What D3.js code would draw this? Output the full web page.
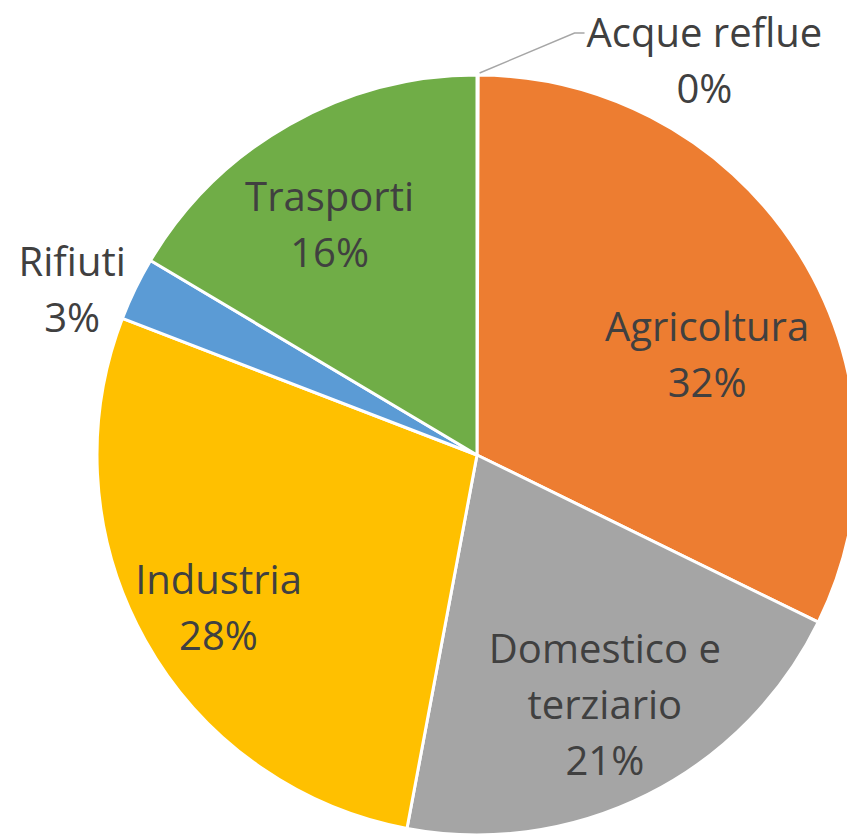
<!DOCTYPE html>
<html lang="it">
<head>
<meta charset="UTF-8">
<script src="https://d3js.org/d3.v7.min.js"></script>
<style>
  html, body { margin: 0; padding: 0; background: #fff; }
  svg { display: block; }
  .lbl { font-family: "Open Sans", sans-serif; font-size: 40px; fill: #404040; }
</style>
</head>
<body>
<svg width="847" height="834"></svg>
<script>
// data (percent shares, clockwise from 12 o'clock)
const categories = ["Acque reflue", "Agricoltura", "Domestico e terziario", "Industria", "Rifiuti", "Trasporti"];
const shares = [0.05, 32.2, 20.7, 27.9, 2.7, 16.45];
const colors = ["#4472C4", "#ED7D31", "#A5A5A5", "#FFC000", "#5B9BD5", "#70AD47"];
// how label text wraps (Excel-style)
const labelLines = [["Acque reflue"], ["Agricoltura"], ["Domestico e", "terziario"], ["Industria"], ["Rifiuti"], ["Trasporti"]];

// label placement: [angle nudge in degrees, distance from centre as fraction of radius]
const labelPlace = [[29.9, 1.197], [8.4, 0.66], [-0.4, 0.74], [-1.4, 0.79], [-3.8, 1.15], [-3.0, 0.72]];

const cx = 477, cy = 455, r = 380;
const lineH = 56;

const svg = d3.select("svg");
const g = svg.append("g").attr("transform", `translate(${cx},${cy})`);

const data = categories.map((c, i) => ({ name: c, value: shares[i], i: i }));

const pie = d3.pie().sort(null).value(d => d.value);
const arc = d3.arc().innerRadius(0).outerRadius(r);
const arcs = pie(data);

g.selectAll("path.slice")
  .data(arcs)
  .enter().append("path")
  .attr("class", "slice")
  .attr("d", arc)
  .attr("fill", d => colors[d.data.i])
  .attr("stroke", "#fff")
  .attr("stroke-width", 3)
  .attr("stroke-linejoin", "round");

const total = d3.sum(shares);
const rad = Math.PI / 180;

arcs.forEach(d => {
  const i = d.data.i;
  const mid = (d.startAngle + d.endAngle) / 2 + labelPlace[i][0] * rad;
  const dist = labelPlace[i][1] * r;
  const lx = Math.sin(mid) * dist;
  const ly = -Math.cos(mid) * dist;
  const lines = labelLines[i].concat([Math.round(d.data.value / total * 100) + "%"]);
  const n = lines.length;

  const t = g.append("text")
    .attr("class", "lbl")
    .attr("text-anchor", "middle");
  lines.forEach((s, k) => {
    t.append("tspan")
      .attr("x", lx)
      .attr("y", ly + (k - (n - 1) / 2) * lineH + 14)
      .text(s);
  });

  // leader line for the tiny slice whose label sits away from it
  if (i === 0) {
    const a0 = (d.startAngle + d.endAngle) / 2;
    const p0 = [Math.sin(a0) * (r + 2) + 2, -Math.cos(a0) * (r + 2)];
    const bb = t.node().getBBox();
    const ey = ly - (n - 1) / 2 * lineH;
    const ex = bb.x - 2;
    g.append("polyline")
      .attr("points", [p0, [ex - 10, ey], [ex, ey]].map(p => p.join(",")).join(" "))
      .attr("fill", "none")
      .attr("stroke", "#A6A6A6")
      .attr("stroke-width", 1.5);
  }
});
</script>
</body>
</html>
